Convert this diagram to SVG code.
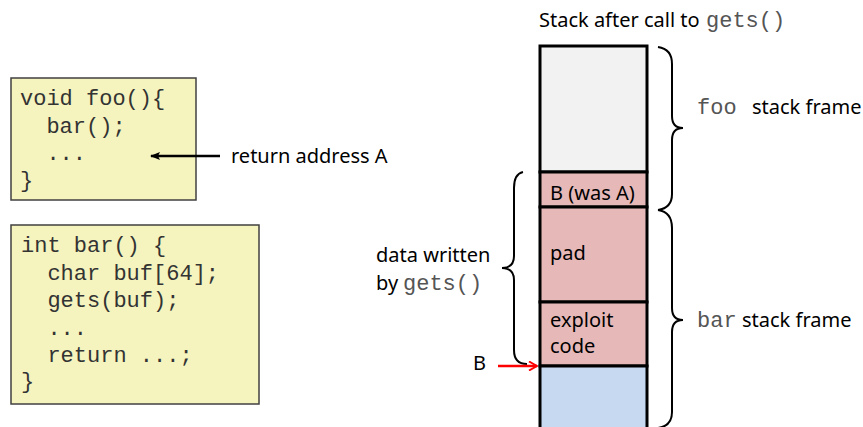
<svg xmlns="http://www.w3.org/2000/svg" width="863" height="427" viewBox="0 0 863 427">
<style>
.code{fill:#F5F3BE;stroke:#404040;stroke-width:1.5}
.mono{font-family:"Liberation Mono","Courier New",monospace;font-size:22px;fill:#333;white-space:pre}
.sans{font-family:"Noto Sans","Open Sans",sans-serif;font-size:20px;fill:#000}
.grey{fill:#555}
.cell{stroke:#000;stroke-width:3}
.brace{fill:none;stroke:#000;stroke-width:2}
</style>
<defs>
<marker id="ah" markerWidth="10" markerHeight="8" refX="9" refY="4" orient="auto" markerUnits="userSpaceOnUse">
<path d="M0,0 L10,4 L0,8 L2,4 Z" fill="#000"/>
</marker>
<marker id="ahr" markerWidth="10" markerHeight="10" refX="9" refY="5" orient="auto" markerUnits="userSpaceOnUse">
<path d="M1,0.5 L9,5 L1,9.5" fill="none" stroke="#FF0000" stroke-width="2"/>
</marker>
</defs>
<rect width="863" height="427" fill="#fff"/>
<g id="foo-code">
<rect class="code" x="11" y="78" width="185" height="122"/>
<text class="mono" x="20" y="105" xml:space="preserve">void foo(){</text>
<text class="mono" x="20" y="133" xml:space="preserve">  bar();</text>
<text class="mono" x="20" y="160" xml:space="preserve">  ...</text>
<text class="mono" x="20" y="187" xml:space="preserve">}</text>
</g>
<g id="bar-code">
<rect class="code" x="11" y="225" width="248" height="179"/>
<text class="mono" x="21" y="252" xml:space="preserve">int bar() {</text>
<text class="mono" x="21" y="280" xml:space="preserve">  char buf[64];</text>
<text class="mono" x="21" y="307" xml:space="preserve">  gets(buf);</text>
<text class="mono" x="21" y="335" xml:space="preserve">  ...</text>
<text class="mono" x="21" y="362" xml:space="preserve">  return ...;</text>
<text class="mono" x="21" y="388" xml:space="preserve">}</text>
</g>
<g id="return-label">
<text class="sans" x="231" y="163">return address A</text>
</g>
<g id="title">
<text class="sans" x="539" y="27">Stack after call to</text>
<text class="mono grey" x="706" y="27">gets()</text>
</g>
<g id="stack">
<rect class="cell" x="540" y="46" width="107" height="126" fill="#F2F2F2"/>
<rect class="cell" x="540" y="172" width="107" height="35" fill="#E6B9B8"/>
<rect class="cell" x="540" y="207" width="107" height="95" fill="#E6B9B8"/>
<rect class="cell" x="540" y="302" width="107" height="64" fill="#E6B9B8"/>
<rect class="cell" x="540" y="366" width="107" height="70" fill="#C6D9F1"/>
<text class="sans" x="550" y="200">B (was A)</text>
<text class="sans" x="550" y="260">pad</text>
<text class="sans" x="550" y="327">exploit</text>
<text class="sans" x="550" y="353">code</text>
</g>
<g id="foo-frame-label">
<text class="mono grey" x="697" y="114">foo</text>
<text class="sans" x="752" y="114">stack frame</text>
</g>
<g id="bar-frame-label">
<text class="mono grey" x="697" y="327">bar</text>
<text class="sans" x="742" y="327">stack frame</text>
</g>
<g id="data-written-label">
<text class="sans" x="376" y="262">data written</text>
<text class="sans" x="376" y="290">by</text>
<text class="mono grey" x="403" y="290">gets()</text>
</g>
<g id="B-label">
<text class="sans" x="473" y="370">B</text>
</g>
<g id="connectors">
<path class="brace" d="M658,47 Q672,49 672,64 L672,116 Q672,128 683,128 Q672,128 672,140 L672,194 Q672,208 658,210"/>
<path class="brace" d="M658,210 Q672,212 672,228 L672,308 Q672,320 683,320 Q672,320 672,332 L672,412 Q672,426 658,428"/>
<path class="brace" d="M523,172 Q514,174 514,188 L514,256 Q514,268 502,268 Q514,268 514,280 L514,350 Q514,364 527,364"/>
<line x1="220" y1="156" x2="151" y2="156" stroke="#000" stroke-width="2.5" marker-end="url(#ah)"/>
<line x1="498" y1="366" x2="537" y2="366" stroke="#FF0000" stroke-width="2.5" marker-end="url(#ahr)"/>
</g>
</svg>
